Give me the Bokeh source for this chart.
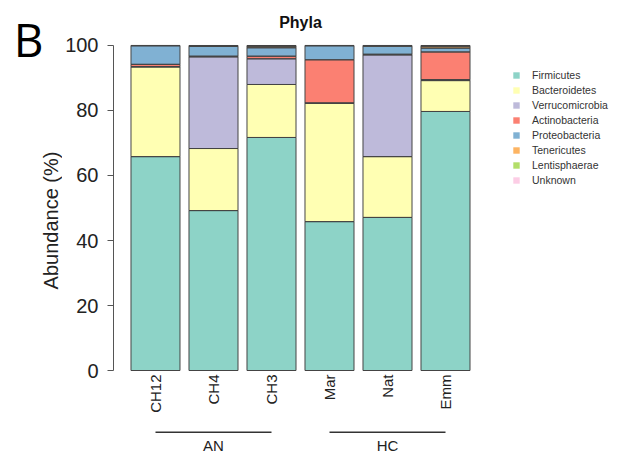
import math
from bokeh.plotting import figure
from bokeh.layouts import row
from bokeh.models import (Range1d, FixedTicker, Label, Legend,
                          LegendItem, ColumnDataSource)
from bokeh.core.properties import value
from bokeh.embed import file_html
from bokeh.resources import INLINE

# ---------------- data ----------------
samples = ["CH12", "CH4", "CH3", "Mar", "Nat", "Emm"]
groups = ["AN", "HC"]
group_members = [["CH12", "CH4", "CH3"], ["Mar", "Nat", "Emm"]]
phyla = ["Firmicutes", "Bacteroidetes", "Verrucomicrobia", "Actinobacteria",
         "Proteobacteria", "Tenericutes", "Lentisphaerae", "Unknown"]
colors = ["#8DD3C7", "#FFFFB3", "#BEBADA", "#FB8072",
          "#80B1D3", "#FDB462", "#B3DE69", "#FCCDE5"]

firmicutes      = [65.8, 49.2, 71.7, 45.8, 47.1, 79.7]
bacteroidetes   = [27.6, 19.1, 16.3, 36.4, 18.7, 9.5]
verrucomicrobia = [0.1, 28.2, 7.9, 0.1, 31.3, 0.3]
actinobacteria  = [0.7, 0.2, 0.8, 13.3, 0.2, 8.5]
proteobacteria  = [5.7, 3.0, 2.6, 4.3, 2.5, 1.2]
tenericutes     = [0.1, 0.1, 0.5, 0.1, 0.1, 0.6]
lentisphaerae   = [0.0, 0.1, 0.1, 0.0, 0.1, 0.1]
unknown         = [0.0, 0.1, 0.1, 0.0, 0.0, 0.1]

y_ticks = [0, 20, 40, 60, 80, 100]
title_text = "Phyla"
panel_letter = "B"
y_label = "Abundance (%)"

pos = list(range(len(samples)))
source = ColumnDataSource(dict(
    pos=pos, sample=samples,
    Firmicutes=firmicutes, Bacteroidetes=bacteroidetes,
    Verrucomicrobia=verrucomicrobia, Actinobacteria=actinobacteria,
    Proteobacteria=proteobacteria, Tenericutes=tenericutes,
    Lentisphaerae=lentisphaerae, Unknown=unknown,
))

FONT = "Liberation Sans"
W, H = 632, 454
LEFT_W = 62

# ---------- left strip: panel letter and y-axis title ----------
pl = figure(width=LEFT_W, height=H, x_range=Range1d(0, LEFT_W),
            y_range=Range1d(0, H), output_backend="svg",
            toolbar_location=None, min_border=0, outline_line_color=None,
            x_axis_location=None, y_axis_location=None)
pl.grid.visible = False
pl.text(x=[28], y=[H - 38], text=[panel_letter], text_align="center",
        text_baseline="alphabetic", text_font=value("Open Sans"),
        text_font_size="46px", text_color="#000000")
pl.text(x=[50.5], y=[H - 220], text=[y_label], angle=math.pi / 2,
        text_align="center", text_baseline="middle", text_font=value(FONT),
        text_font_size="20px", text_color="#222222")

# ---------- main plot ----------
p = figure(width=W - LEFT_W, height=H,
           x_range=Range1d(-0.724, 8.224),
           y_range=Range1d(-25.846, 113.846),
           output_backend="svg", toolbar_location=None,
           x_axis_location=None, min_border=0,
           min_border_left=113 - LEFT_W, outline_line_color=None)
p.xgrid.visible = False
p.ygrid.visible = False

fills = p.vbar_stack(phyla, x="pos", width=0.845, source=source,
                     fill_color=colors, line_color=None)
p.vbar_stack(phyla, x="pos", width=0.845, source=source,
             fill_color=None, line_color="#444444", line_width=1)

# y axis
ya = p.yaxis[0]
ya.bounds = (0, 100)
ya.ticker = FixedTicker(ticks=y_ticks)
ya.major_label_text_font = FONT
ya.major_label_text_font_size = "20px"
ya.major_label_text_color = "#222222"
ya.major_label_standoff = 9
ya.major_tick_in = 0
ya.major_tick_out = 6
ya.minor_tick_line_color = None
ya.axis_line_color = "#555555"
ya.major_tick_line_color = "#555555"

# category labels
p.text(x="pos", y=-1.23, text="sample", source=source, angle=math.pi / 2,
       text_align="right", text_baseline="middle",
       text_font=value(FONT), text_font_size="15px", text_color="#222222")

# group lines and labels
gx0 = [samples.index(g[0]) for g in group_members]
gx1 = [samples.index(g[-1]) for g in group_members]
gxm = [samples.index(g[len(g) // 2]) for g in group_members]
p.segment(x0=gx0, x1=gx1, y0=-18.98, y1=-18.98,
          line_color="#333333", line_width=1.5)
p.text(x=gxm, y=[-23.2] * len(groups), text=groups,
       text_align="center", text_baseline="alphabetic",
       text_font=value(FONT), text_font_size="15px", text_color="#222222")

# title
p.add_layout(Label(x=2.5, y=107.17, text=title_text, text_align="center",
                   text_baseline="alphabetic", text_font=FONT,
                   text_font_style="bold", text_font_size="16px",
                   text_color="#111111"))

# legend
items = [LegendItem(label=name, renderers=[r]) for name, r in zip(phyla, fills)]
legend = Legend(items=items, location=(399, 268), padding=0, margin=0,
                border_line_color=None, background_fill_alpha=0,
                glyph_width=8, glyph_height=8, label_standoff=12,
                label_height=12, spacing=3,
                label_text_font=FONT, label_text_font_size="10.5px",
                label_text_color="#333333")
p.add_layout(legend)

open("out.html", "w").write(file_html(row(pl, p), INLINE))
